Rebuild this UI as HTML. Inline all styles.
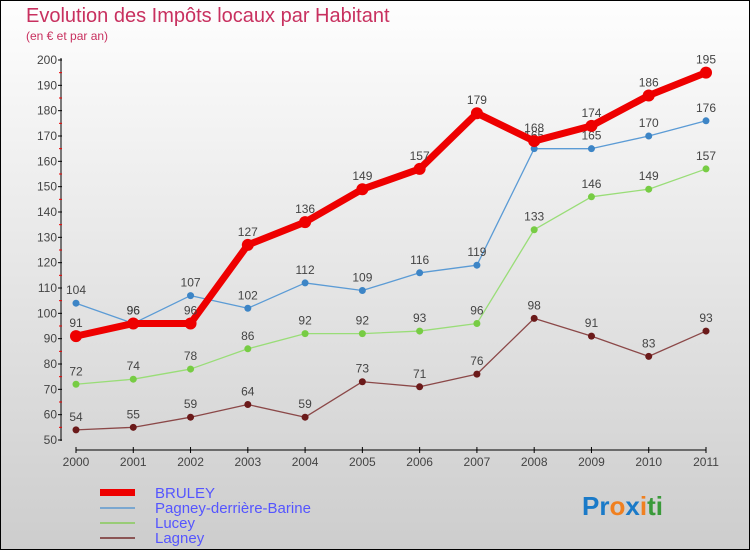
<!DOCTYPE html>
<html><head><meta charset="utf-8"><style>
body{margin:0}
svg text{font-family:"Liberation Sans",sans-serif}
</style></head><body>
<svg id="c" width="750" height="550" xmlns="http://www.w3.org/2000/svg">
<defs><linearGradient id="bg" x1="0" y1="0" x2="0" y2="1"><stop offset="0" stop-color="#fefefe"/><stop offset="1" stop-color="#cdcdcd"/></linearGradient></defs>
<rect x="0.5" y="0.5" width="749" height="549" fill="url(#bg)" stroke="#000"/>
<text x="26" y="22" font-size="20" fill="#c8305f">Evolution des Impôts locaux par Habitant</text>
<text x="26" y="40" font-size="12" fill="#c8305f">(en € et par an)</text>
<g id="axes"></g><g id="series"></g>
<g>
<rect x="100" y="489" width="35" height="7" fill="#e00"/>
<text x="155" y="498" font-size="15" fill="#5555ff">BRULEY</text>
<line x1="100" y1="508" x2="135" y2="508" stroke="#7aa7d0" stroke-width="2"/>
<text x="155" y="513" font-size="15" fill="#5555ff">Pagney-derrière-Barine</text>
<line x1="100" y1="523" x2="135" y2="523" stroke="#99cc77" stroke-width="2"/>
<text x="155" y="528" font-size="15" fill="#5555ff">Lucey</text>
<line x1="100" y1="538" x2="135" y2="538" stroke="#8b5555" stroke-width="2"/>
<text x="155" y="543" font-size="15" fill="#5555ff">Lagney</text>
</g>
<text x="582" y="515" font-size="26" font-weight="bold"><tspan fill="#1a7ac8">Pr</tspan><tspan fill="#f08020">o</tspan><tspan fill="#1a7ac8">x</tspan><tspan fill="#f08020">i</tspan><tspan fill="#3a9a3a">ti</tspan></text>
</svg>
<script>
const years=[2000,2001,2002,2003,2004,2005,2006,2007,2008,2009,2010,2011];
const yTicks=[50,60,70,80,90,100,110,120,130,140,150,160,170,180,190,200];
const bruley=[91,96,96,127,136,149,157,179,168,174,186,195];
const pagney=[104,96,107,102,112,109,116,119,165,165,170,176];
const lucey=[72,74,78,86,92,92,93,96,133,146,149,157];
const lagney=[54,55,59,64,59,73,71,76,98,91,83,93];
const NS="http://www.w3.org/2000/svg";
const X=i=>76+i*(706-76)/(years.length-1);
const Y=v=>440-(v-50)*(380/150);
function mk(t,a,p){const e=document.createElementNS(NS,t);for(const k in a)e.setAttribute(k,a[k]);p.appendChild(e);return e;}
const ax=document.getElementById('axes');
mk('line',{x1:61,y1:58,x2:61,y2:441,stroke:'#000','stroke-width':1},ax);
mk('line',{x1:76,y1:450,x2:706,y2:450,stroke:'#000','stroke-width':1},ax);
yTicks.forEach(v=>{
 mk('line',{x1:58,y1:Y(v),x2:62,y2:Y(v),stroke:'#000'},ax);
 if(v<200)mk('line',{x1:59,y1:Y(v+5),x2:62,y2:Y(v+5),stroke:'#e00'},ax);
 const t=mk('text',{x:57,y:Y(v)+4,'font-size':12,'text-anchor':'end',fill:'#444'},ax);
 
 
 t.textContent=v;
});
years.forEach((yr,i)=>{
 mk('line',{x1:X(i),y1:447,x2:X(i),y2:453,stroke:'#000'},ax);
 const t=mk('text',{x:X(i),y:466,'font-size':12,'text-anchor':'middle',fill:'#444'},ax);
 
 
 t.textContent=yr;
});
const sg=document.getElementById('series');
function series(name,vals,color,dot,w,r){
 const g=mk('g',{},sg);
 
 
 mk('polyline',{points:vals.map((v,i)=>X(i)+','+Y(v)).join(' '),fill:'none',stroke:color,'stroke-width':w,'stroke-linejoin':'round'},g);
 vals.forEach((v,i)=>{
  const c=mk('circle',{cx:X(i),cy:Y(v),r:r,fill:dot},g);
  
  
  const t=mk('text',{x:X(i),y:Y(v)-9,'font-size':12,'text-anchor':'middle',fill:'#444'},g);
  
  
  t.textContent=v;
 });
}
series('lagney',lagney,'#8b4848','#6b1a1a',1.3,3.5);
series('lucey',lucey,'#99dd77','#77cc44',1.3,3.5);
series('pagney',pagney,'#5b9bd5','#3d85c6',1.3,3.5);
series('bruley',bruley,'#ee0000','#ee0000',7,6);
</script>
</body></html>
